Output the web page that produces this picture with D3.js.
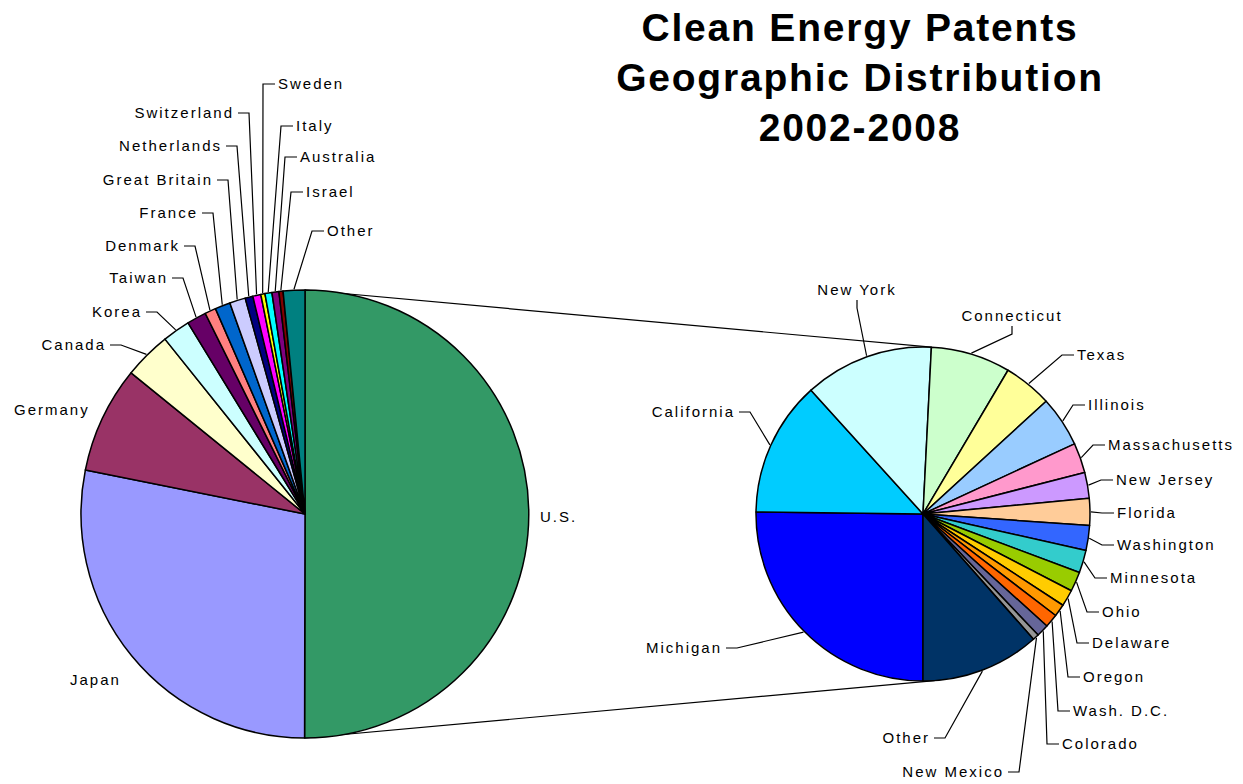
<!DOCTYPE html>
<html>
<head>
<meta charset="utf-8">
<script src="https://cdn.jsdelivr.net/npm/d3@7"></script>
<style>
  body { margin: 0; background: #fff; }
  text { font-family: "Liberation Sans", Arial, sans-serif; }
</style>
</head>
<body>
<script>
// share of all clean energy patents, by country (%)
var countries = ["U.S.", "Japan", "Germany", "Canada", "Korea", "Taiwan", "Denmark", "France",
  "Great Britain", "Netherlands", "Switzerland", "Sweden", "Italy", "Australia", "Israel", "Other"];
var countryShare = [50.0, 28.1, 7.7, 3.4, 2.0, 1.4, 0.8, 1.1, 1.14, 0.56, 0.58, 0.3, 0.5, 0.5, 0.3, 1.56];
var countryColors = ["#339966", "#9999FF", "#993366", "#FFFFCC", "#CCFFFF", "#660066", "#FF8080", "#0066CC",
  "#CCCCFF", "#000080", "#FF00FF", "#FFFF00", "#00FFFF", "#800080", "#800000", "#008080"];

// share of U.S. patents, by state (%)
var states = ["Michigan", "California", "New York", "Connecticut", "Texas", "Illinois", "Massachusetts",
  "New Jersey", "Florida", "Washington", "Minnesota", "Ohio", "Delaware", "Oregon", "Wash. D.C.",
  "Colorado", "New Mexico", "Other"];
var stateShare = [25.2, 13.1, 12.5, 7.7, 4.7, 4.9, 2.9, 2.5, 2.6, 2.4, 2.2, 1.9, 1.6, 1.2, 1.3, 1.2, 0.6, 11.5];
var stateColors = ["#0000FF", "#00CCFF", "#CCFFFF", "#CCFFCC", "#FFFF99", "#99CCFF", "#FF99CC",
  "#CC99FF", "#FFCC99", "#3366FF", "#33CCCC", "#99CC00", "#FFCC00", "#FF9900", "#FF6600",
  "#666699", "#969696", "#003366"];

var titleLines = ["Clean Energy Patents", "Geographic Distribution", "2002-2008"];

// label placement: [x, y, anchor, leader]
var countryLabelPos = [
  [540, 517, "start", false], [70, 680, "start", false], [14, 410, "start", false],
  [106, 345, "end", true], [142, 312, "end", true], [168, 278, "end", true],
  [180, 246, "end", true], [198, 213, "end", true], [213, 180, "end", true],
  [222, 146, "end", true], [234, 113, "end", true], [278, 84, "start", true],
  [296, 126, "start", true], [300, 157, "start", true], [306, 192, "start", true],
  [327, 231, "start", true]
];
var stateLabelPos = [
  [722, 648, "end", true], [735, 412, "end", true], [857, 290, "middle", true],
  [1012, 316, "middle", true], [1077, 355, "start", true], [1088, 405, "start", true],
  [1108, 445, "start", true], [1116, 480, "start", true], [1117, 513, "start", true],
  [1117, 545, "start", true], [1110, 578, "start", true], [1102, 612, "start", true],
  [1092, 643, "start", true], [1083, 677, "start", true], [1073, 711, "start", true],
  [1062, 744, "start", true], [1004, 772, "end", true], [930, 738, "end", true]
];

var width = 1243, height = 784;
var main = {cx: 305, cy: 514, r: 224};
var sub = {cx: 923, cy: 514, r: 167};

var svg = d3.select("body").append("svg")
  .attr("width", width)
  .attr("height", height);

// title
svg.append("g").selectAll("text")
  .data(titleLines)
  .join("text")
    .attr("x", 860)
    .attr("y", (d, i) => 41 + i * 50)
    .attr("text-anchor", "middle")
    .attr("font-size", 39)
    .attr("font-weight", "bold")
    .attr("letter-spacing", 1.8)
    .text(d => d);

function drawPie(names, values, colors, labelPos, geo, start) {
  var pie = d3.pie().sort(null).startAngle(start).endAngle(start + 2 * Math.PI);
  var arcs = pie(values);
  var arc = d3.arc().innerRadius(0).outerRadius(geo.r);
  var g = svg.append("g").attr("transform", "translate(" + geo.cx + "," + geo.cy + ")");

  g.selectAll("path")
    .data(arcs)
    .join("path")
      .attr("d", arc)
      .attr("fill", (d, i) => colors[i])
      .attr("stroke", "#000")
      .attr("stroke-width", 1.5)
      .attr("stroke-linejoin", "round");

  // leader lines
  arcs.forEach(function(a, i) {
    var p = labelPos[i];
    if (!p[3]) return;
    var mid = (a.startAngle + a.endAngle) / 2;
    var rx = geo.cx + (geo.r + 1) * Math.sin(mid),
        ry = geo.cy - (geo.r + 1) * Math.cos(mid);
    var pts;
    if (p[2] == "end") pts = [[p[0] + 4, p[1]], [p[0] + 15, p[1]], [rx, ry]];
    else if (p[2] == "start") pts = [[p[0] - 3, p[1]], [p[0] - 15, p[1]], [rx, ry]];
    else pts = [[p[0], p[1] + 10], [p[0], p[1] + 18], [rx, ry]];
    svg.append("path")
      .attr("d", d3.line()(pts))
      .attr("fill", "none")
      .attr("stroke", "#000")
      .attr("stroke-width", 1.2);
  });

  svg.append("g").selectAll("text")
    .data(names)
    .join("text")
      .attr("x", (d, i) => labelPos[i][0])
      .attr("y", (d, i) => labelPos[i][1])
      .attr("dy", "0.35em")
      .attr("text-anchor", (d, i) => labelPos[i][2])
      .attr("font-size", 15)
      .attr("letter-spacing", 2)
      .text(d => d);
}

// connector lines between the U.S. slice and the state pie
svg.append("g").selectAll("line")
  .data([[0, 0.05], [Math.PI, Math.PI - 0.07]])
  .join("line")
    .attr("x1", d => main.cx + main.r * Math.sin(d[0]))
    .attr("y1", d => main.cy - main.r * Math.cos(d[0]))
    .attr("x2", d => sub.cx + sub.r * Math.sin(d[1]))
    .attr("y2", d => sub.cy - sub.r * Math.cos(d[1]))
    .attr("stroke", "#000")
    .attr("stroke-width", 1.2);

drawPie(countries, countryShare, countryColors, countryLabelPos, main, 0);
drawPie(states, stateShare, stateColors, stateLabelPos, sub, Math.PI);
</script>
</body>
</html>
